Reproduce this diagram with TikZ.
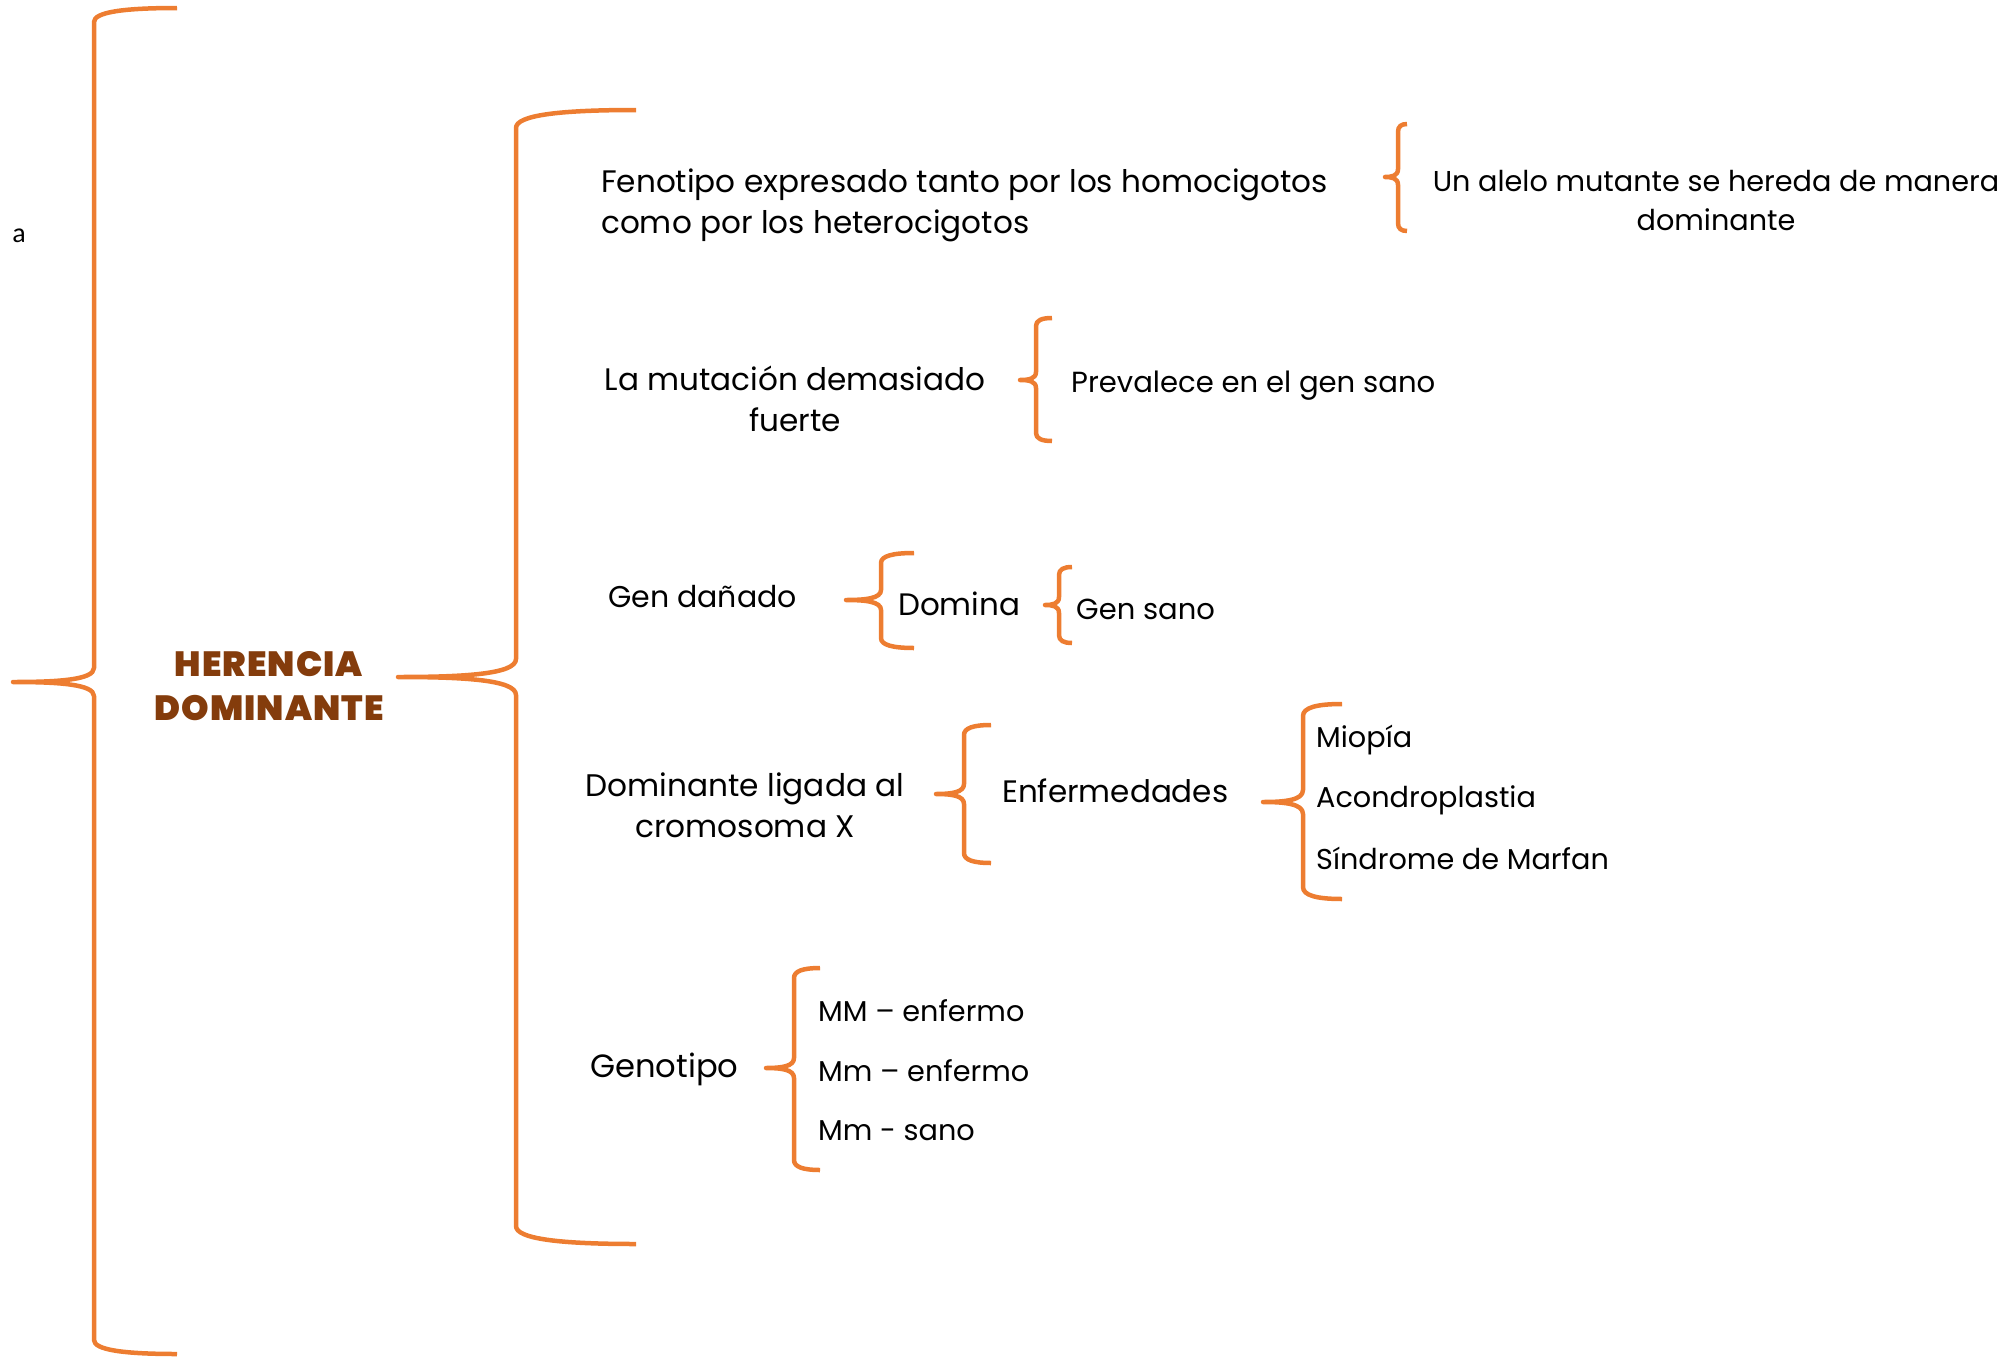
\documentclass[tikz,border=0pt]{standalone}
\usepackage{fontspec}
\setmainfont{Poppins}
\newfontfamily\titlefont[LetterSpace=3]{Poppins Black}
\newfontfamily\calfont{Carlito}
\definecolor{orng}{HTML}{ED7D31}
\definecolor{brwn}{HTML}{843C0C}
\newcommand\obrace[7]{% xv ytop ybot xtip ytip xend r
  \draw[brc] (#6,#2) .. controls ({#1+0.35*(#6-#1)},#2) and (#1,{#2+0.3*#7}) .. (#1,{#2+#7})
    -- (#1,{#5-#7}) .. controls (#1,{#5-0.15*#7}) and ({#1-0.45*(#1-#4)},#5) .. (#4,#5)
    .. controls ({#1-0.45*(#1-#4)},#5) and (#1,{#5+0.15*#7}) .. (#1,{#5+#7})
    -- (#1,{#3-#7}) .. controls (#1,{#3-0.3*#7}) and ({#1+0.35*(#6-#1)},#3) .. (#6,#3);
}
\begin{document}
\begin{tikzpicture}[x=1pt,y=-1pt,
  brc/.style={draw=orng, line width=4.5pt, line join=round},
  txt/.style={inner sep=0pt}]
\useasboundingbox (0,0) rectangle (2011,1357);
% braces
\obrace{94}{8}{1354}{13}{682}{177}{14}
\obrace{516}{110}{1244}{398}{677}{636}{18}
\obrace{1398}{124}{231}{1385}{177}{1407}{8}
\obrace{1036}{318}{441}{1020}{380}{1052}{8}
\obrace{881}{553}{648}{846}{600}{914}{10}
\obrace{1059}{567}{643}{1045}{605}{1072}{8}
\obrace{964}{725}{863}{936}{794}{991}{10}
\obrace{1303}{704}{899}{1263}{802}{1342}{12}
\obrace{794}{968}{1170}{766}{1068}{820}{10}
% texts
\node[txt, font=\calfont\fontsize{28}{32}\selectfont] (a) at (19,236) {a};
\node[txt, text=brwn, align=center, font=\titlefont\fontsize{35}{44}\selectfont] (title) at (269,686) {HERENCIA\\DOMINANTE};
\node[txt, anchor=west, align=left, font=\fontsize{31.1}{41}\selectfont] (feno) at (601,205) {Fenotipo expresado tanto por los homocigotos\\como por los heterocigotos};
\node[txt, align=center, font=\fontsize{28.7}{39}\selectfont] (alelo) at (1716,201) {Un alelo mutante se hereda de manera\\dominante};
\node[txt, align=center, font=\fontsize{31.1}{41}\selectfont] (mut) at (795,399) {La mutación demasiado\\fuerte};
\node[txt, anchor=west, font=\fontsize{29.1}{36}\selectfont] (prev) at (1071,386) {Prevalece en el gen sano};
\node[txt, anchor=west, font=\fontsize{30}{36}\selectfont] (gend) at (608,597) {Gen dañado};
\node[txt, anchor=west, font=\fontsize{31}{36}\selectfont] (dom) at (898,604) {Domina};
\node[txt, anchor=west, font=\fontsize{29}{36}\selectfont] (gens) at (1076,609) {Gen sano};
\node[txt, align=center, font=\fontsize{31.2}{41}\selectfont] (ligx) at (745,805) {Dominante ligada al\\cromosoma X};
\node[txt, anchor=west, font=\fontsize{31}{36}\selectfont] (enf) at (1002,791) {Enfermedades};
\node[txt, anchor=west, font=\fontsize{28.7}{36}\selectfont] (mio) at (1316,740) {Miopía};
\node[txt, anchor=west, font=\fontsize{28.7}{36}\selectfont] (acon) at (1316,800) {Acondroplastia};
\node[txt, anchor=west, font=\fontsize{28.7}{36}\selectfont] (marf) at (1316,858) {Síndrome de Marfan};
\node[txt, anchor=west, font=\fontsize{32.2}{38}\selectfont] (geno) at (590,1069) {Genotipo};
\node[txt, anchor=west, font=\fontsize{28.7}{36}\selectfont] (mm1) at (818,1011) {MM – enfermo};
\node[txt, anchor=west, font=\fontsize{28.7}{36}\selectfont] (mm2) at (818,1071) {Mm – enfermo};
\node[txt, anchor=west, font=\fontsize{28.7}{36}\selectfont] (mm3) at (818,1131) {Mm - sano};
\end{tikzpicture}
\end{document}
